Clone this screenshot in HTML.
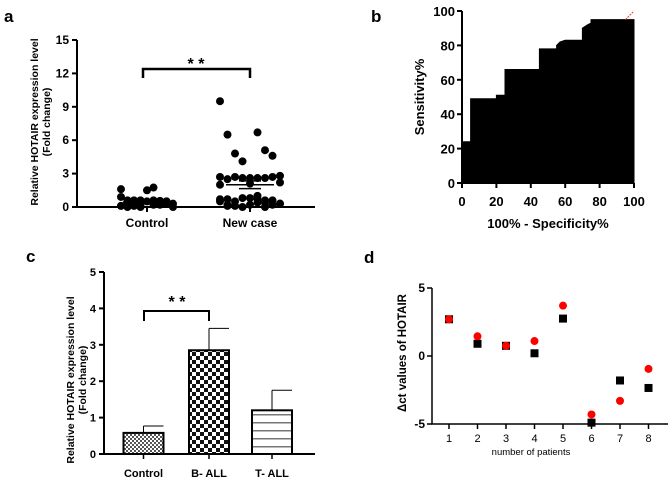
<!DOCTYPE html>
<html><head><meta charset="utf-8"><style>
body{margin:0;background:#fff;}
svg{display:block;font-family:"Liberation Sans",Arial,sans-serif;}
</style></head><body>
<svg id="fig" width="669" height="477" viewBox="0 0 669 477">
<defs>
<pattern id="fine" width="4" height="4" patternUnits="userSpaceOnUse"><rect width="4" height="4" fill="#fff"/><rect width="2" height="2" fill="#555"/><rect x="2" y="2" width="2" height="2" fill="#555"/></pattern>
<pattern id="check" width="8" height="8" patternUnits="userSpaceOnUse"><rect width="8" height="8" fill="#fff"/><rect width="4" height="4" fill="#111"/><rect x="4" y="4" width="4" height="4" fill="#111"/></pattern>
<pattern id="hstripe" width="8" height="8" patternUnits="userSpaceOnUse"><rect width="8" height="8" fill="#fff"/><rect y="6" width="8" height="1.5" fill="#777"/></pattern>
</defs>
<g id="pa"></g>
<g id="pb"></g>
<g id="pc"></g>
<g id="pd"></g>
</svg>
<script>
// Panel a data
const aGroups = ["Control","New case"];
const aControl = [0.9,0.6,0.6,0.55,0.1,0.5,0.6,0.0,1.5,1.6,1.75,0.3,0.2,0.4,0.5,0.0,0.3,0.5,0.1,0.2,0.0,0.4,0.6,0.3,0.1];
const aNew = [9.5,6.7,6.5,5.1,4.8,4.6,4.1,2.8,2.6,2.7,2.6,2.5,2.6,2.7,2.7,2.6,2.2,2.1,2.0,1.0,0.7,0.6,0.5,0.2,0.0,0.3,0.8,0.7,0.4,0.2,0.0,0.1,0.6,0.8,0.3,0.2,0.5,0.7,0.1,0.4];
const aMeans = [0.45,2.0];
const aSem = [0.1,0.35];
const aTicks = [0,3,6,9,12,15];
// Panel b data
const bX = [0,0,5,5,20,20,25,25,45,45,55,55,57,60,70,70,73,75,75,100,100];
const bY = [0,24,24,49,49,51,51,66,66,78,78,80,82,83,83,90,92,93,95,95,0];
const bTicks = [0,20,40,60,80,100];
// Panel c data
const cCats = ["Control","B- ALL","T- ALL"];
const cVals = [0.58,2.85,1.2];
const cErr = [0.77,3.45,1.75];
const cTicks = [0,1,2,3,4,5];
// Panel d data
const dX = [1,2,3,4,5,6,7,8];
const dRed = [2.7,1.45,0.75,1.1,3.7,-4.3,-3.3,-0.95];
const dBlack = [2.7,0.9,0.75,0.2,2.75,-4.9,-1.8,-2.35];
const dTicks = [-5,0,5];

const NS="http://www.w3.org/2000/svg";
function mk(parent,tag,attrs,text){const e=document.createElementNS(NS,tag);for(const k in attrs)e.setAttribute(k,attrs[k]);if(text!==undefined)e.textContent=text;parent.appendChild(e);return e;}

// ---------- Panel a
(function(){
const g=document.getElementById('pa');
const y=v=>207-(v/15)*167; const cx=[147,250];
let t=mk(g,'text',{x:4,y:22,'font-size':17,'font-weight':'bold'},'a');


let ax=mk(g,'path',{d:'M77,40 V207 H315',stroke:'#000','stroke-width':2,fill:'none'});


aTicks.forEach(v=>{
 mk(g,'line',{x1:72,x2:77,y1:y(v),y2:y(v),stroke:'#000','stroke-width':2});
 const l=mk(g,'text',{x:69,y:y(v)+4,'font-size':12,'font-weight':'bold','text-anchor':'end'},v);
 
 
});
aGroups.forEach((n,i)=>{
 mk(g,'line',{x1:cx[i],x2:cx[i],y1:207,y2:212,stroke:'#000','stroke-width':2});
 const l=mk(g,'text',{x:cx[i],y:227,'font-size':12,'font-weight':'bold','text-anchor':'middle'},n);
 
 
});
const yt=mk(g,'text',{transform:'translate(38,122) rotate(-90)','font-size':10.5,'font-weight':'bold','text-anchor':'middle'});


mk(yt,'tspan',{x:0,dy:0},'Relative HOTAIR expression level');
mk(yt,'tspan',{x:0,dy:12},'(Fold change)');
[aControl,aNew].forEach((arr,gi)=>{
 arr.forEach((v,i)=>{
  const off=((i*5)%9-4)*(gi?7.5:6.5);
  const c=mk(g,'circle',{cx:cx[gi]+off,cy:y(v),r:4,fill:'#000'});
  
  
 });
 mk(g,'line',{x1:cx[gi]-24,x2:cx[gi]+24,y1:y(aMeans[gi]),y2:y(aMeans[gi]),stroke:'#000','stroke-width':1.5});
 mk(g,'line',{x1:cx[gi]-11,x2:cx[gi]+11,y1:y(aMeans[gi]-aSem[gi]),y2:y(aMeans[gi]-aSem[gi]),stroke:'#000','stroke-width':1.5});
 mk(g,'line',{x1:cx[gi]-11,x2:cx[gi]+11,y1:y(aMeans[gi]+aSem[gi]),y2:y(aMeans[gi]+aSem[gi]),stroke:'#000','stroke-width':1.5});
});
const br=mk(g,'path',{d:'M143,78 V69 H250 V78',stroke:'#000','stroke-width':2.5,fill:'none'});


const st=mk(g,'text',{x:196,y:69,'font-size':16,'font-weight':'bold','text-anchor':'middle'},'* *');


})();

// ---------- Panel b
(function(){
const g=document.getElementById('pb');
const x=v=>462+v/100*172, y=v=>183-v/100*172;
let t=mk(g,'text',{x:371,y:22,'font-size':17,'font-weight':'bold'},'b');


let d='M'+bX.map((v,i)=>x(v)+','+y(bY[i])).join(' L')+' Z';
const roc=mk(g,'path',{d:d,fill:'#000',stroke:'#000','stroke-width':1});


mk(g,'line',{x1:x(95),y1:y(95),x2:x(100),y2:y(100),stroke:'#e33','stroke-width':1,'stroke-dasharray':'2,1'});
mk(g,'path',{d:'M462,11 V183 H634',stroke:'#000','stroke-width':2,fill:'none'});
bTicks.forEach(v=>{
 mk(g,'line',{x1:457,x2:462,y1:y(v),y2:y(v),stroke:'#000','stroke-width':2});
 mk(g,'line',{x1:x(v),x2:x(v),y1:183,y2:188,stroke:'#000','stroke-width':2});
 const l=mk(g,'text',{x:455,y:y(v)+5,'font-size':13,'font-weight':'bold','text-anchor':'end'},v);
 
 
 const l2=mk(g,'text',{x:x(v),y:206,'font-size':13,'font-weight':'bold','text-anchor':'middle'},v);
 
 
});
const xt=mk(g,'text',{x:548,y:228,'font-size':13,'font-weight':'bold','text-anchor':'middle'},'100% - Specificity%');


const yt=mk(g,'text',{transform:'translate(424,97) rotate(-90)','font-size':13,'font-weight':'bold','text-anchor':'middle'},'Sensitivity%');


})();

// ---------- Panel c
(function(){
const g=document.getElementById('pc');
const y=v=>454-v/5*182; const cx=[143.5,209,272]; const bw=40;
const fills=['url(#fine)','url(#check)','url(#hstripe)'];
let t=mk(g,'text',{x:26,y:262,'font-size':17,'font-weight':'bold'},'c');


cVals.forEach((v,i)=>{
 mk(g,'line',{x1:cx[i],x2:cx[i],y1:y(v),y2:y(cErr[i]),stroke:'#000','stroke-width':1});
 mk(g,'line',{x1:cx[i],x2:cx[i]+bw/2,y1:y(cErr[i]),y2:y(cErr[i]),stroke:'#000','stroke-width':1});
 const b=mk(g,'rect',{x:cx[i]-bw/2,y:y(v),width:bw,height:454-y(v),fill:fills[i],stroke:'#000','stroke-width':2});
 
 
 mk(g,'line',{x1:cx[i],x2:cx[i],y1:454,y2:459,stroke:'#000','stroke-width':1.5});
 const l=mk(g,'text',{x:cx[i],y:477,'font-size':11,'font-weight':'bold','text-anchor':'middle'},cCats[i]);
 
 
});
mk(g,'path',{d:'M104,272 V454 H315',stroke:'#000','stroke-width':2,fill:'none'});
cTicks.forEach(v=>{
 mk(g,'line',{x1:99,x2:104,y1:y(v),y2:y(v),stroke:'#000','stroke-width':2});
 const l=mk(g,'text',{x:96,y:y(v)+4,'font-size':11,'font-weight':'bold','text-anchor':'end'},v);
 
 
});
const yt=mk(g,'text',{transform:'translate(74,380) rotate(-90)','font-size':10.5,'font-weight':'bold','text-anchor':'middle'});


mk(yt,'tspan',{x:0,dy:0},'Relative HOTAIR expression level');
mk(yt,'tspan',{x:0,dy:12},'(Fold change)');
const br=mk(g,'path',{d:'M144,321 V311 H209 V321',stroke:'#000','stroke-width':2,fill:'none'});


const st=mk(g,'text',{x:177,y:307,'font-size':16,'font-weight':'bold','text-anchor':'middle'},'* *');


})();

// ---------- Panel d
(function(){
const g=document.getElementById('pd');
const x=v=>449+(v-1)*28.5, y=v=>356-v/5*68;
let t=mk(g,'text',{x:364,y:263,'font-size':17,'font-weight':'bold'},'d');


mk(g,'path',{d:'M432,288 V424 H668',stroke:'#000','stroke-width':1.5,fill:'none'});
dTicks.forEach(v=>{
 mk(g,'line',{x1:427,x2:432,y1:y(v),y2:y(v),stroke:'#000','stroke-width':1.5});
 const l=mk(g,'text',{x:425,y:y(v)+4,'font-size':12,'font-weight':'bold','text-anchor':'end'},v);
 
 
});
dX.forEach(v=>{
 mk(g,'line',{x1:x(v),x2:x(v),y1:424,y2:429,stroke:'#000','stroke-width':1.5});
 const l=mk(g,'text',{x:x(v),y:442,'font-size':11,'text-anchor':'middle'},v);
 
 
});
const xt=mk(g,'text',{x:531,y:455,'font-size':9.5,'text-anchor':'middle'},'number of patients');


const yt=mk(g,'text',{transform:'translate(406,353) rotate(-90)','font-size':11.5,'font-weight':'bold','text-anchor':'middle'},'Δct values of HOTAIR');


dX.forEach((v,i)=>{
 const s=mk(g,'rect',{x:x(v)-4,y:y(dBlack[i])-4,width:8,height:8,fill:'#000'});
 
 
 const c=mk(g,'circle',{cx:x(v),cy:y(dRed[i]),r:4,fill:'#f00'});
 
 
});
})();
</script>
</body></html>
